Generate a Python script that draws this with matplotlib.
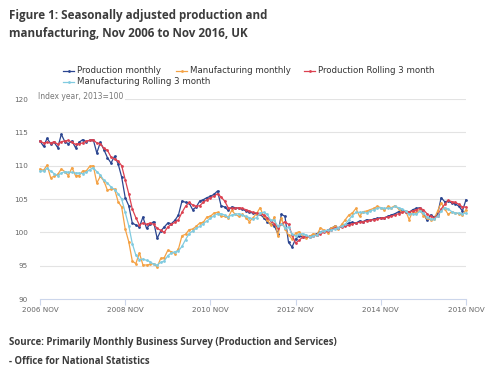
import numpy as np
import pandas as pd
import matplotlib
matplotlib.use("Agg")
import matplotlib.pyplot as plt
from matplotlib.lines import Line2D

# Meses: Nov 2006 .. Nov 2016 (121 puntos)
MESES = pd.period_range("2006-11", "2016-11", freq="M")
TICKS_MESES = ["2006-11", "2008-11", "2010-11", "2012-11", "2014-11", "2016-11"]
TICKS_ETIQUETAS = ["2006 NOV", "2008 NOV", "2010 NOV", "2012 NOV", "2014 NOV", "2016 NOV"]
Y_TICKS = [90, 95, 100, 105, 110, 115, 120]

# Valores (índice 2013=100)
produccion_mensual = [
    113.7, 112.9, 114.1, 113.3, 113.5, 112.7, 114.7, 113.6, 113.3, 113.7,
    112.7, 113.5, 113.9, 113.6, 113.8, 113.9, 111.9, 113.5, 112.4, 111.2,
    110.4, 111.4, 110.3, 108.3, 105.2, 104.0, 101.4, 101.1, 100.8, 102.3,
    100.6, 101.2, 101.6, 99.1, 100.2, 100.8, 101.4, 101.3, 101.8, 102.6,
    104.7, 104.5, 104.4, 103.4, 103.8, 104.7, 104.9, 105.2, 105.4, 105.7,
    106.2, 104.0, 103.8, 103.3, 103.8, 103.7, 103.6, 103.5, 103.2, 103.0,
    102.9, 102.8, 102.7, 102.2, 101.6, 101.2, 101.0, 99.8, 102.7, 102.4,
    98.5, 97.8, 99.0, 99.5, 99.3, 99.3, 99.4, 99.6, 99.8, 100.1,
    100.2, 100.3, 100.6, 100.9, 100.7, 100.9, 101.1, 101.4, 101.5, 101.4,
    101.7, 101.6, 101.9, 101.8, 102.0, 102.1, 102.2, 102.2, 102.4, 102.6,
    102.8, 103.1, 103.3, 103.1, 103.0, 103.4, 103.6, 103.7, 102.9, 101.8,
    102.6, 102.3, 102.7, 105.2, 104.6, 104.7, 104.4, 104.3, 103.9, 103.2,
    104.9,
]
manufactura_mensual = [
    109.5, 109.3, 110.1, 108.2, 108.4, 108.7, 109.5, 109.1, 108.5, 109.7,
    108.5, 108.5, 109.2, 109.2, 109.9, 110.0, 107.4, 108.4, 107.7, 106.3,
    106.5, 106.5, 104.6, 103.8, 100.5, 98.6, 95.7, 95.3, 96.9, 95.1,
    95.1, 95.2, 95.3, 94.8, 96.1, 96.2, 97.3, 97.1, 96.8, 97.5,
    99.5, 99.7, 100.4, 100.5, 100.9, 101.4, 101.5, 102.3, 102.4, 102.9,
    103.0, 102.4, 102.4, 102.2, 103.3, 102.7, 102.4, 102.7, 102.2, 101.6,
    102.2, 102.8, 103.7, 102.4, 101.9, 101.1, 102.3, 99.4, 102.2, 100.5,
    99.6, 99.0, 99.9, 100.1, 99.4, 99.2, 99.4, 99.8, 99.6, 100.7,
    100.3, 99.9, 100.6, 100.9, 100.5, 101.2, 101.9, 102.6, 102.9, 103.6,
    102.4, 103.1, 103.2, 103.4, 103.6, 103.9, 103.7, 103.3, 103.9, 103.7,
    104.0, 103.5, 103.0, 103.2, 101.9, 103.2, 102.9, 103.4, 102.5, 102.1,
    101.9, 102.0, 103.2, 104.4, 103.5, 102.7, 103.1, 102.9, 102.8, 102.6,
    103.4,
]
produccion_movil = [
    113.7, 113.4, 113.5, 113.4, 113.6, 113.2, 113.6, 113.7, 113.8, 113.5,
    113.2, 113.3, 113.4, 113.7, 113.8, 113.9, 113.4, 113.3, 112.6, 112.3,
    111.3, 111.0, 110.7, 110.0, 107.9, 105.8, 103.5, 102.2, 101.1, 101.4,
    101.2, 101.4, 101.2, 100.6, 100.3, 100.0, 100.8, 101.2, 101.5, 101.9,
    103.0, 103.9, 104.5, 104.1, 103.9, 104.0, 104.5, 104.9, 105.2, 105.4,
    105.8, 105.3, 104.7, 103.7, 103.6, 103.6, 103.7, 103.6, 103.4, 103.2,
    103.0, 102.9, 102.8, 102.6, 102.2, 101.7, 101.3, 100.7, 101.2, 101.6,
    101.2, 99.6, 98.4, 98.8, 99.3, 99.4, 99.3, 99.4, 99.6, 99.8,
    100.0, 100.2, 100.4, 100.6, 100.7, 100.8, 100.9, 101.1, 101.3, 101.4,
    101.5, 101.6, 101.7, 101.8, 101.9, 102.0, 102.1, 102.2, 102.3, 102.4,
    102.6, 102.8, 103.0, 103.1, 103.1, 103.2, 103.4, 103.6, 103.4, 102.8,
    102.4, 102.2, 102.5, 103.5, 104.2, 104.8, 104.6, 104.5, 104.2, 103.8,
    103.8,
]
manufactura_movil = [
    109.2, 109.2, 109.6, 109.2, 108.8, 108.5, 108.9, 109.1, 109.0, 109.0,
    108.9, 108.9, 108.8, 109.0, 109.4, 109.7, 109.1, 108.6, 107.8, 107.4,
    106.8, 106.4, 105.8, 105.0, 103.0, 101.0, 98.3, 96.6, 95.9, 96.0,
    95.8, 95.6, 95.2, 95.1, 95.5, 95.7, 96.5, 96.9, 97.1, 97.2,
    97.9, 98.9, 99.8, 100.2, 100.6, 100.9, 101.3, 101.7, 102.1, 102.5,
    102.8, 102.8, 102.6, 102.3, 102.6, 102.7, 102.8, 102.6, 102.4, 102.2,
    102.0, 102.2, 102.9, 103.0, 102.7, 101.8, 101.8, 100.9, 101.3, 100.7,
    100.8, 99.7, 99.5, 99.7, 99.8, 99.6, 99.3, 99.5, 99.6, 100.0,
    100.2, 100.3, 100.3, 100.5, 100.7, 100.9, 101.2, 101.9, 102.5, 103.0,
    103.0, 103.0, 102.9, 103.2, 103.4, 103.6, 103.7, 103.6, 103.6, 103.6,
    103.9, 103.7, 103.5, 103.2, 102.7, 102.8, 102.7, 103.2, 102.9, 102.3,
    102.0, 102.0, 102.4, 103.2, 103.7, 103.5, 103.1, 102.9, 102.9, 102.8,
    102.9,
]

SERIES = [
    ("Production monthly", produccion_mensual, "#2b4590"),
    ("Manufacturing monthly", manufactura_mensual, "#f4a245"),
    ("Production Rolling 3 month", produccion_movil, "#dc4150"),
    ("Manufacturing Rolling 3 month", manufactura_movil, "#80cbe0"),
]

W, H = 500, 373


def fx(px):
    return px / W


def fy(py):
    return 1 - py / H


def main():
    fig = plt.figure(figsize=(5.0, 3.73), dpi=100)
    fig.patch.set_facecolor("white")

    # Área del gráfico (px 40..466 en x, 99..299 en y)
    ax = fig.add_axes([fx(40), fy(299), fx(466) - fx(40), fy(99) - fy(299)])
    x = np.arange(len(MESES))
    for nombre, valores, color in SERIES:
        ax.plot(x, valores, color=color, lw=0.9, marker="o", ms=2.0,
                markeredgewidth=0, label=nombre, clip_on=False)

    ax.set_xlim(0, len(MESES) - 1)
    ax.set_ylim(90, 120)
    for y in Y_TICKS[1:]:
        ax.axhline(y, color="#e3e3e3", lw=0.8, zorder=0)
    for s in ["top", "right", "left"]:
        ax.spines[s].set_visible(False)
    ax.spines["bottom"].set_color("#ccd6eb")
    ax.spines["bottom"].set_linewidth(0.8)

    pos = [list(MESES.strftime("%Y-%m")).index(m) for m in TICKS_MESES]
    ax.set_xticks(pos)
    ax.set_xticklabels(TICKS_ETIQUETAS, fontsize=5.2, color="#666666")
    ax.tick_params(axis="x", length=4, width=0.8, color="#ccd6eb", pad=1.5)
    ax.set_yticks(Y_TICKS)
    ax.set_yticklabels([str(v) for v in Y_TICKS], fontsize=5.2, color="#666666")
    ax.tick_params(axis="y", length=0, pad=8.6)

    ax.text(fx(38), fy(96.7), "Index year, 2013=100", transform=fig.transFigure,
            fontsize=5.5, color="#777777", va="center", ha="left",
            bbox=dict(facecolor="white", edgecolor="none", pad=0.8))

    # Leyenda manual (estilo Highcharts)
    leyenda = [(63, 70.7), (176, 70.7), (304, 70.7), (63, 81.7)]
    for (nombre, _, color), (lx, ly) in zip(SERIES, leyenda):
        fig.add_artist(Line2D([fx(lx), fx(lx + 11)], [fy(ly), fy(ly)], color=color,
                              lw=0.9, marker=None, transform=fig.transFigure))
        fig.add_artist(Line2D([fx(lx + 5.5)], [fy(ly)], color=color, marker="o",
                              ms=2.0, markeredgewidth=0, transform=fig.transFigure))
        fig.text(fx(lx + 14.3), fy(ly), nombre, fontsize=6.25, color="#333333",
                 va="center", ha="left")

    fig.text(fx(9), fy(16), "Figure 1: Seasonally adjusted production and",
             fontsize=8.35, fontweight="bold", family="Open Sans", color="#3c3c3c",
             va="center", ha="left")
    fig.text(fx(9), fy(33.5), "manufacturing, Nov 2006 to Nov 2016, UK",
             fontsize=8.35, fontweight="bold", family="Open Sans", color="#3c3c3c",
             va="center", ha="left")

    fig.text(fx(9), fy(343), "Source: Primarily Monthly Business Survey (Production and Services)",
             fontsize=6.9, fontweight="bold", family="Open Sans", color="#3c3c3c",
             va="center", ha="left")
    fig.text(fx(9), fy(361), "- Office for National Statistics",
             fontsize=6.9, fontweight="bold", family="Open Sans", color="#3c3c3c",
             va="center", ha="left")

    fig.savefig("out.png", dpi=100, facecolor="white")
    plt.close(fig)


if __name__ == "__main__":
    main()
